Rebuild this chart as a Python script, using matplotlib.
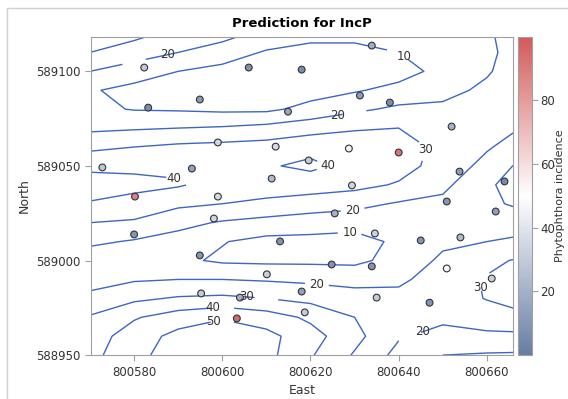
import numpy as np
import matplotlib
matplotlib.use("Agg")
import matplotlib.pyplot as plt
from matplotlib.colors import LinearSegmentedColormap, Normalize
from matplotlib.patches import Rectangle

# prediction grid (kriging surface)
grid_east = [800570, 800580, 800590, 800600, 800610, 800620, 800630, 800640, 800650, 800660, 800670]
grid_north = [589120, 589110, 589100, 589090, 589080, 589070, 589060, 589050, 589040,
              589030, 589020, 589010, 589000, 588990, 588980, 588970, 588960, 588950]
pred = [
    [35, 33, 27, 24, 17, 13, 12, 15, 16, 19, 25],
    [30, 25, 20, 15, 9, 7, 8, 10, 14, 18, 26],
    [20, 15, 10, 7, 5, 4, 6, 6, 13, 19, 27],
    [11, 7, 5, 3, 3, 6, 9, 13, 17, 22, 27],
    [12, 9.5, 9, 8, 8, 13, 18, 22, 22, 24, 25],
    [18, 19, 20, 21, 23, 26, 29, 30, 26, 23, 19],
    [28, 30, 32, 33, 34, 37, 36, 35, 27, 21, 14],
    [37, 37, 38, 37, 39, 42, 37, 34, 26, 17, 5],
    [46, 44, 41, 36, 37, 35, 33, 29, 22, 13, -2],
    [39, 35, 32, 30, 27, 25, 23, 19, 18, 14, 4],
    [30, 29, 23, 19, 17, 15, 14, 15, 15, 17, 17],
    [22, 19, 16, 10.5, 7, 7, 6, 12, 18, 20, 22],
    [14, 13, 12, 8.5, 8, 8, 8, 13, 22, 27, 33],
    [17, 19, 20, 20, 19, 18, 16, 18, 25, 31, 40],
    [22, 28, 31, 32, 30, 27, 25, 23, 25, 30.5, 38],
    [31, 39, 45, 49, 45, 38, 30, 24, 22, 25, 28],
    [35, 45, 53, 57, 53, 44, 33, 21, 17, 18, 18],
    [37, 47, 55, 58, 53, 41, 29, 17, 10, 9, 8.5],
]
levels = [10, 20, 30, 40, 50]

# observed sample locations and incidence
obs_east = [800582.3, 800606.0, 800618.0, 800633.9, 800583.2, 800594.9, 800614.9, 800631.2,
            800638.0, 800652.0, 800599.0, 800612.1, 800572.8, 800593.1, 800611.2, 800619.6,
            800628.7, 800640.0, 800629.4, 800653.8, 800664.0, 800580.2, 800599.0, 800598.1,
            800580.0, 800625.5, 800634.6, 800645.0, 800654.0, 800662.0, 800650.9, 800613.1,
            800594.9, 800624.8, 800633.9, 800650.9, 800610.1, 800661.1, 800595.2, 800604.0,
            800618.0, 800635.0, 800647.0, 800618.7, 800603.3]
obs_north = [589102.0, 589102.0, 589100.9, 589113.6, 589080.8, 589085.1, 589078.7, 589087.2,
             589083.5, 589070.8, 589062.4, 589060.2, 589049.2, 589048.6, 589043.3, 589052.9,
             589059.2, 589057.1, 589039.7, 589047.0, 589041.8, 589033.8, 589033.8, 589022.2,
             589013.8, 589024.9, 589014.3, 589010.6, 589012.2, 589025.9, 589031.2, 589010.1,
             589002.7, 588997.9, 588996.9, 588995.8, 588992.7, 588990.5, 588982.6, 588980.4,
             588983.6, 588980.4, 588977.7, 588972.6, 588969.4]
obs_inc = [30, 8, 7, 18, 7, 12, 16, 12, 7, 20, 35, 36, 28, 14, 24, 30, 46, 92, 34, 12, 5,
           88, 36, 34, 10, 20, 33, 10, 24, 14, 10, 9, 9, 8, 9, 48, 32, 32, 30, 20, 14, 30,
           9, 30, 95]

# where SAS put the contour labels
label_pos = [(800587.7, 589108.8), (800641.8, 589109.9), (800626.0, 589077.7),
             (800647.5, 589057.6), (800589.1, 589044.3), (800626.9, 589053.9),
             (800629.6, 589025.9), (800628.9, 589014.8), (800621.4, 588986.3),
             (800605.6, 588982.1), (800597.9, 588976.3), (800597.9, 588968.9),
             (800659.0, 588985.7), (800645.4, 588962.5)]

cmap = LinearSegmentedColormap.from_list("inc", ["#667ea4", "#ffffff", "#d35a5a"])
norm = Normalize(0, 100)

fig = plt.figure(figsize=(5.68, 3.99), dpi=100)
fig.patches.append(Rectangle((7 / 568, -0.1), 1.0, 1.1 - 8 / 399, transform=fig.transFigure,
                             fill=False, edgecolor="#d0d0d0", lw=1.0))
ax = fig.add_axes([0.160, 0.110, 0.743, 0.798])
cax = fig.add_axes([0.9125, 0.110, 0.0246, 0.798])

E, N = np.meshgrid(grid_east, grid_north)
cs = ax.contour(E, N, np.array(pred), levels=levels, colors="#3d66c6", linewidths=1.0)
labels = ax.clabel(cs, inline=True, inline_spacing=4, fontsize=8.5, fmt="%d",
                   manual=label_pos, colors="#333333")
for t in labels:
    t.set_rotation(0)

ax.scatter(obs_east, obs_north, c=obs_inc, cmap=cmap, norm=norm, s=24,
           edgecolors="#333333", linewidths=0.8, zorder=3)

ax.set_xlim(800570.2, 800665.9)
ax.set_ylim(588950, 589118.3)
ax.set_xticks([800580, 800600, 800620, 800640, 800660])
ax.set_yticks([588950, 589000, 589050, 589100])
ax.ticklabel_format(useOffset=False, style="plain")
for sp in ax.spines.values():
    sp.set_color("#a0a0a0")
ax.tick_params(colors="#a0a0a0", labelcolor="#333333", labelsize=8.5, length=4)
ax.set_xlabel("East", fontsize=9, color="#333333")
ax.set_ylabel("North", fontsize=9, color="#333333")
ax.set_title("Prediction for IncP", fontsize=9.5, fontweight="bold", pad=7)

cb = fig.colorbar(plt.cm.ScalarMappable(norm=norm, cmap=cmap), cax=cax)
cb.set_ticks([20, 40, 60, 80])
cb.outline.set_edgecolor("#a0a0a0")
cax.tick_params(colors="#a0a0a0", labelcolor="#333333", labelsize=8.5, length=4, pad=2)
cb.set_label("Phytophthora incidence", fontsize=8, color="#333333", labelpad=0)

fig.savefig("out.png", dpi=100)
